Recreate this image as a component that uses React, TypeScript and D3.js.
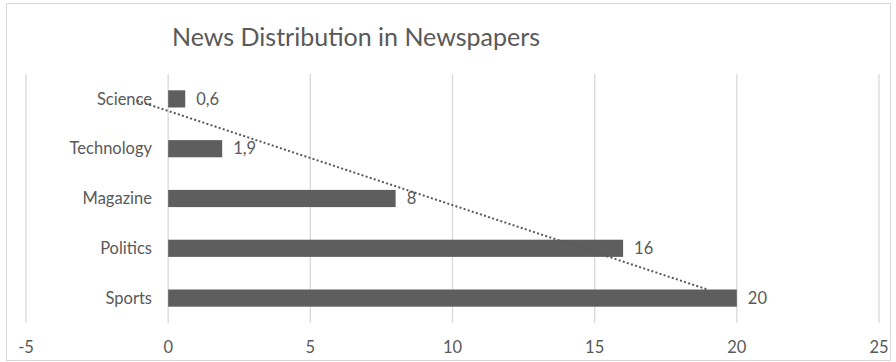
import React from "react";
import * as d3 from "d3";

// News categories from top to bottom, with their values
const categories = ["Science", "Technology", "Magazine", "Politics", "Sports"];
const values = [0.6, 1.9, 8, 16, 20];
const valueLabels = ["0,6", "1,9", "8", "16", "20"];
const xTicks = [-5, 0, 5, 10, 15, 20, 25];
const title = "News Distribution in Newspapers";

const W = 896;
const H = 362;
const FONT = "Lato, 'Open Sans', sans-serif";
const TEXT = "#595959";
const BAR = "#5e5e5e";
const GRID = "#d9d9d9";
const LABEL_SIZE = 16.5;

export default function App() {
  const plot = { left: 26, right: 879, top: 74, bottom: 323 };

  const x = d3.scaleLinear().domain([-5, 25]).range([plot.left, plot.right]);
  const y = d3
    .scaleBand<string>()
    .domain(categories)
    .range([plot.top, plot.bottom])
    .paddingInner(0.655)
    .paddingOuter(0.3275);
  const barH = y.bandwidth();
  const yc = (c: string) => (y(c) as number) + barH / 2;

  // Linear trend over the category order (Sports = 1 ... Science = 5)
  const pts = categories
    .map((c, i) => ({ idx: categories.length - i, v: values[i] }))
    .sort((a, b) => a.idx - b.idx);
  const mx = d3.mean(pts, (p) => p.idx) as number;
  const my = d3.mean(pts, (p) => p.v) as number;
  const sxy = d3.sum(pts, (p) => (p.idx - mx) * (p.v - my));
  const sxx = d3.sum(pts, (p) => (p.idx - mx) ** 2);
  const slope = sxy / sxx;
  const icpt = my - slope * mx;
  const step = y.step();
  const yOfIdx = (idx: number) => yc(categories[categories.length - 1]) - (idx - 1) * step;
  const trendFrom = 1.18;
  const trendTo = 4.98;
  const trendLine = d3
    .line<number>()
    .x((t) => x(icpt + slope * t))
    .y((t) => yOfIdx(t));

  return (
    <svg width={W} height={H} style={{ position: "absolute", left: 0, top: 0 }}>
      <rect x={0} y={0} width={W} height={H} fill="#fff" />
      <rect x={6.5} y={3.5} width={884} height={357} fill="#fff" stroke="#d9d9d9" />
      <text x={172} y={46} fontFamily={FONT} fontSize={25} fill={TEXT}>
        {title}
      </text>
      {xTicks.map((t) => (
        <g key={t}>
          <line x1={x(t)} x2={x(t)} y1={plot.top} y2={plot.bottom} stroke={GRID} strokeWidth={1.3} />
          <text
            x={x(t)}
            y={353}
            textAnchor="middle"
            fontFamily={FONT}
            fontSize={LABEL_SIZE}
            fill={TEXT}
          >
            {t}
          </text>
        </g>
      ))}
      {categories.map((c, i) => (
        <g key={c}>
          <rect x={x(0)} y={y(c)} width={x(values[i]) - x(0)} height={barH} fill={BAR} />
          <text
            x={152}
            y={yc(c)}
            dy="0.35em"
            textAnchor="end"
            fontFamily={FONT}
            fontSize={LABEL_SIZE}
            fill={TEXT}
          >
            {c}
          </text>
          <text
            x={x(values[i]) + 11}
            y={yc(c)}
            dy="0.35em"
            fontFamily={FONT}
            fontSize={LABEL_SIZE}
            fill={TEXT}
          >
            {valueLabels[i]}
          </text>
        </g>
      ))}
      <path
        d={trendLine([trendFrom, trendTo]) as string}
        fill="none"
        stroke="#595959"
        strokeWidth={2}
        strokeDasharray="2 2.3"
        strokeLinecap="butt"
      />
    </svg>
  );
}
